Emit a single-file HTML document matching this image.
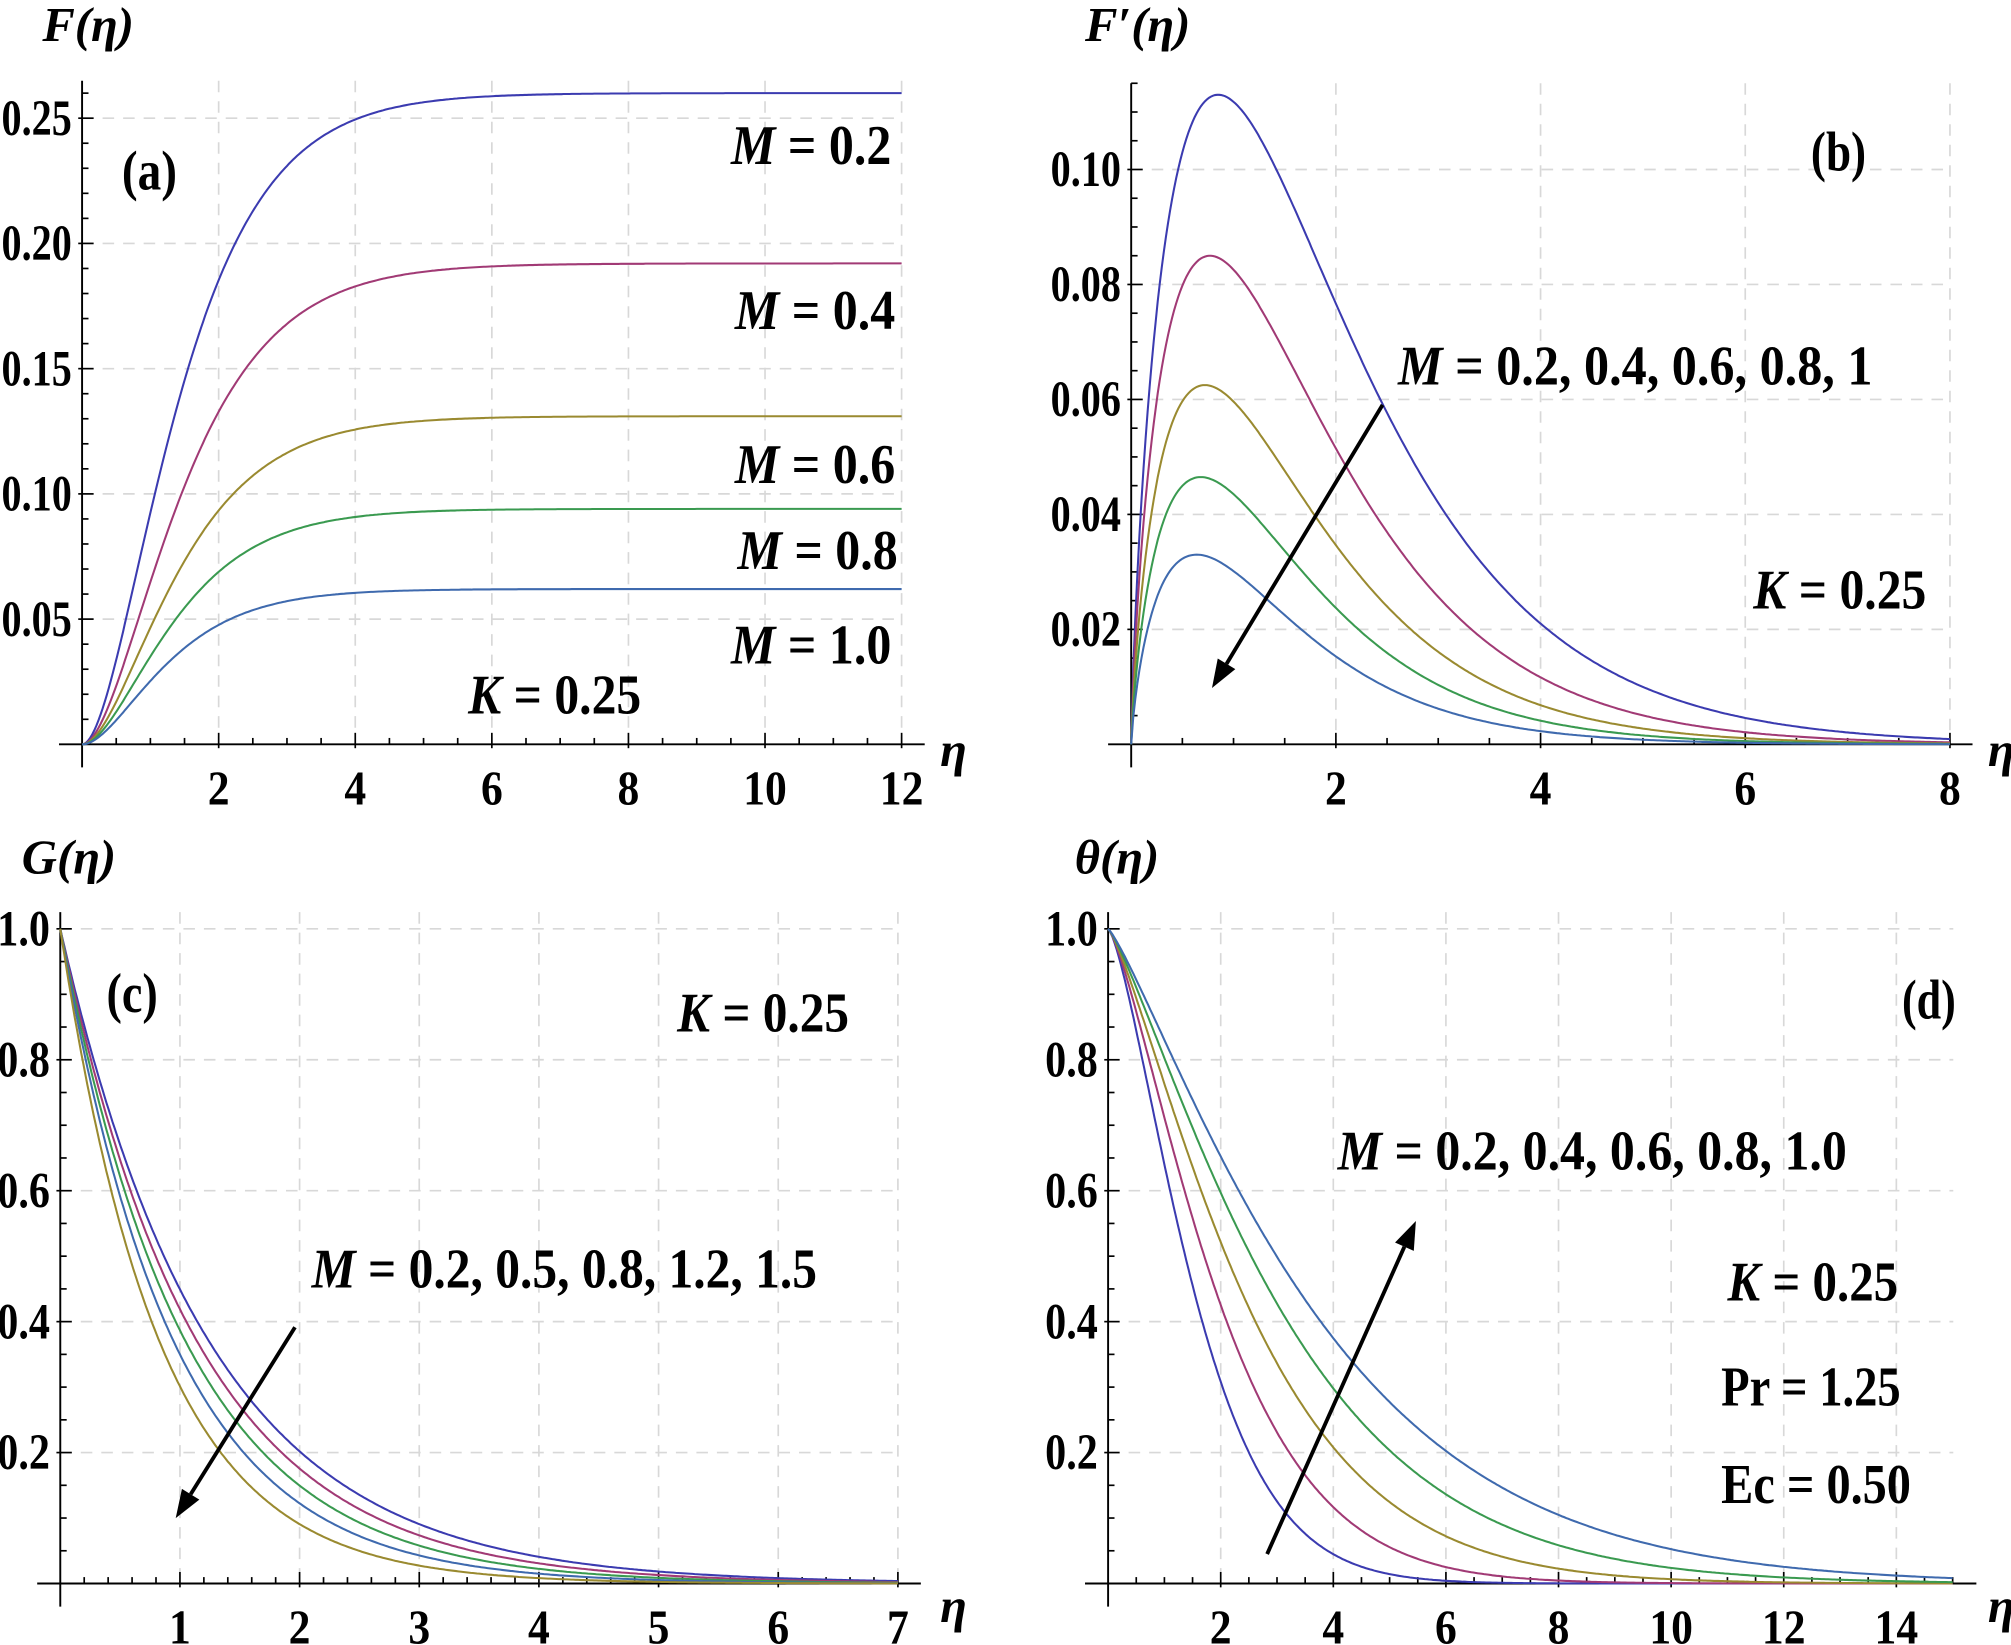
<!DOCTYPE html>
<html><head><meta charset="utf-8"><style>
html,body{margin:0;padding:0;background:#fff;}
svg{display:block;}
text{font-family:"Liberation Serif",serif;font-weight:bold;fill:#000;}
</style></head><body>
<svg id="s" xmlns="http://www.w3.org/2000/svg" width="2011" height="1645" viewBox="0 0 1568 1284" preserveAspectRatio="none"></svg>
<script>
const S=document.getElementById('s');let h='';
const C=['#3b3bb0','#a13a75','#9a8a30','#3a9a50','#3f6aae'];
function T(x,y,s,fs,w,anchor,ital){h+=`<text x="${x}" y="${y}" font-size="${fs}" ${w?`textLength="${w}" lengthAdjust="spacingAndGlyphs"`:''} text-anchor="${anchor||'start'}" ${ital?'font-style="italic"':''}>${s}</text>`;}
function panel(p){
 const X=v=>p.x0+v*p.sx, Y=v=>p.y0-v*p.sy;
 for(let v=p.xm;v<=p.xmax+1e-9;v+=p.xm)h+=`<line x1="${X(v)}" y1="${p.ytop}" x2="${X(v)}" y2="${p.y0}" stroke="#d8d8d8" stroke-width="1.3" stroke-dasharray="9,7"/>`;
 for(let v=p.ym;v<=p.ymax+1e-9;v+=p.ym)h+=`<line x1="${p.x0}" y1="${Y(v)}" x2="${p.xend}" y2="${Y(v)}" stroke="#d8d8d8" stroke-width="1.3" stroke-dasharray="9,7"/>`;
 h+=`<line x1="${p.x0-18}" y1="${p.y0}" x2="${p.xend+18}" y2="${p.y0}" stroke="#000" stroke-width="1.5"/>`;
 h+=`<line x1="${p.x0}" y1="${p.ytop}" x2="${p.x0}" y2="${p.y0+18}" stroke="#000" stroke-width="1.5"/>`;
 for(let v=p.xn;v<=p.xmax+1e-9;v+=p.xn){let maj=Math.abs(v/p.xm-Math.round(v/p.xm))<1e-6;h+=`<line x1="${X(v)}" y1="${p.y0-(maj?9:5)}" x2="${X(v)}" y2="${p.y0+(maj?3:0)}" stroke="#000" stroke-width="1.3"/>`;}
 for(let v=p.yn;v<=p.ymaxt+1e-9;v+=p.yn){let maj=Math.abs(v/p.ym-Math.round(v/p.ym))<1e-6;h+=`<line x1="${p.x0-(maj?3:0)}" y1="${Y(v)}" x2="${p.x0+(maj?9:5)}" y2="${Y(v)}" stroke="#000" stroke-width="1.3"/>`;}
 for(let v=p.xm;v<=p.xmax+1e-9;v+=p.xm){let s=String(Math.round(v*100)/100);T(X(v),p.y0+47,s,38,s.length*17,'middle');}
 for(let v=p.ym;v<=p.ymax+1e-9;v+=p.ym){let s=v.toFixed(p.yd);T(p.x0-8,Y(v)+13,s,40,s.length*13.7,'end');}
 p.f.forEach((f,i)=>{let d='';for(let k=0;k<=400;k++){let v=k/400*p.xmax;d+=(k?'L':'M')+X(v).toFixed(1)+','+Y(f(v)).toFixed(1);}h+=`<path d="${d}" fill="none" stroke="${p.c[i]}" stroke-width="1.6"/>`;});
}
const sig=(A,k)=>x=>A*(1-(1+k*x)*Math.exp(-k*x));
panel({x0:64,y0:581,sx:53.25,sy:1955,xmax:12,xend:703,ytop:63,xm:2,xn:0.5,ym:0.05,ymax:0.25,ymaxt:0.265,yn:0.01,yd:2,c:C,
 f:[sig(0.26,1.25),sig(0.192,1.2),sig(0.131,1.25),sig(0.094,1.3),sig(0.062,1.4)]});
const pk=(P,q)=>x=>{let t=x/q;return P*Math.pow(t*Math.exp(1-t),0.78);};
panel({x0:882,y0:581,sx:79.8,sy:4487,xmax:8,xend:1520,ytop:65,xm:2,xn:0.5,ym:0.02,ymax:0.10,ymaxt:0.115,yn:0.005,yd:2,c:C,
 f:[pk(0.113,0.85),pk(0.085,0.77),pk(0.0625,0.72),pk(0.0465,0.68),pk(0.033,0.64)]});
const ex=k=>x=>Math.exp(-k*x);
panel({x0:47,y0:1236,sx:93.3,sy:511,xmax:7,xend:700,ytop:712,xm:1,xn:0.2,ym:0.2,ymax:1.0,ymaxt:1.0,yn:0.05,yd:1,c:[C[0],C[1],C[3],C[4],C[2]],
 f:[ex(0.8),ex(0.87),ex(0.95),ex(1.05),ex(1.2)]});
const th=(a,p)=>x=>Math.exp(-a*Math.pow(x,p));
panel({x0:864,y0:1236,sx:43.9,sy:511,xmax:15,xend:1523,ytop:712,xm:2,xn:0.5,ym:0.2,ymax:1.0,ymaxt:1.0,yn:0.05,yd:1,c:[C[0],C[1],C[2],C[3],C[4]],
 f:[th(0.446,1.4),th(0.34,1.33),th(0.27,1.27),th(0.22,1.23),th(0.186,1.2)]});
function arrow(x1,y1,x2,y2){let a=Math.atan2(y2-y1,x2-x1),L=22,W=8;let bx=x2-L*Math.cos(a),by=y2-L*Math.sin(a);
 h+=`<line x1="${x1}" y1="${y1}" x2="${bx}" y2="${by}" stroke="#000" stroke-width="3"/>`;
 h+=`<polygon points="${x2},${y2} ${bx+W*Math.sin(a)},${by-W*Math.cos(a)} ${bx-W*Math.sin(a)},${by+W*Math.cos(a)}" fill="#000"/>`;}
arrow(1078,316,945,537);arrow(230,1036,137,1185);arrow(988,1213,1104,953);
h+=`<text x="33" y="32" font-size="38" font-style="italic">F(η)</text>`;
h+=`<text x="846" y="32" font-size="38" font-style="italic">F′(η)</text>`;
h+=`<text x="17" y="682" font-size="38" font-style="italic">G(η)</text>`;
h+=`<text x="838" y="682" font-size="38" font-style="italic">θ(η)</text>`;
[[733,598],[1550,598],[733,1266],[1550,1266]].forEach(p=>h+=`<text x="${p[0]}" y="${p[1]}" font-size="38" font-style="italic">η</text>`);
function ann(x,y,s,w,fs){h+=`<text x="${x}" y="${y}" font-size="${fs||44}" textLength="${w}" lengthAdjust="spacingAndGlyphs">${s}</text>`;}
const M='<tspan font-style="italic">M</tspan>',K='<tspan font-style="italic">K</tspan>';
ann(95,148,'(a)',43);ann(570,128,M+' = 0.2',125);ann(573,257,M+' = 0.4',125);ann(573,377,M+' = 0.6',125);ann(575,444,M+' = 0.8',125);ann(570,518,M+' = 1.0',125);ann(365,557,K+' = 0.25',135);
ann(1412,133,'(b)',43);ann(1090,300,M+' = 0.2, 0.4, 0.6, 0.8, 1',370);ann(1367,475,K+' = 0.25',135);
ann(83,790,'(c)',40);ann(528,805,K+' = 0.25',134);ann(243,1005,M+' = 0.2, 0.5, 0.8, 1.2, 1.5',394);
ann(1483,795,'(d)',42);ann(1043,913,M+' = 0.2, 0.4, 0.6, 0.8, 1.0',397);ann(1347,1015,K+' = 0.25',133);ann(1342,1097,'Pr = 1.25',140);ann(1342,1173,'Ec = 0.50',148);
S.innerHTML=h;
</script>
</body></html>
